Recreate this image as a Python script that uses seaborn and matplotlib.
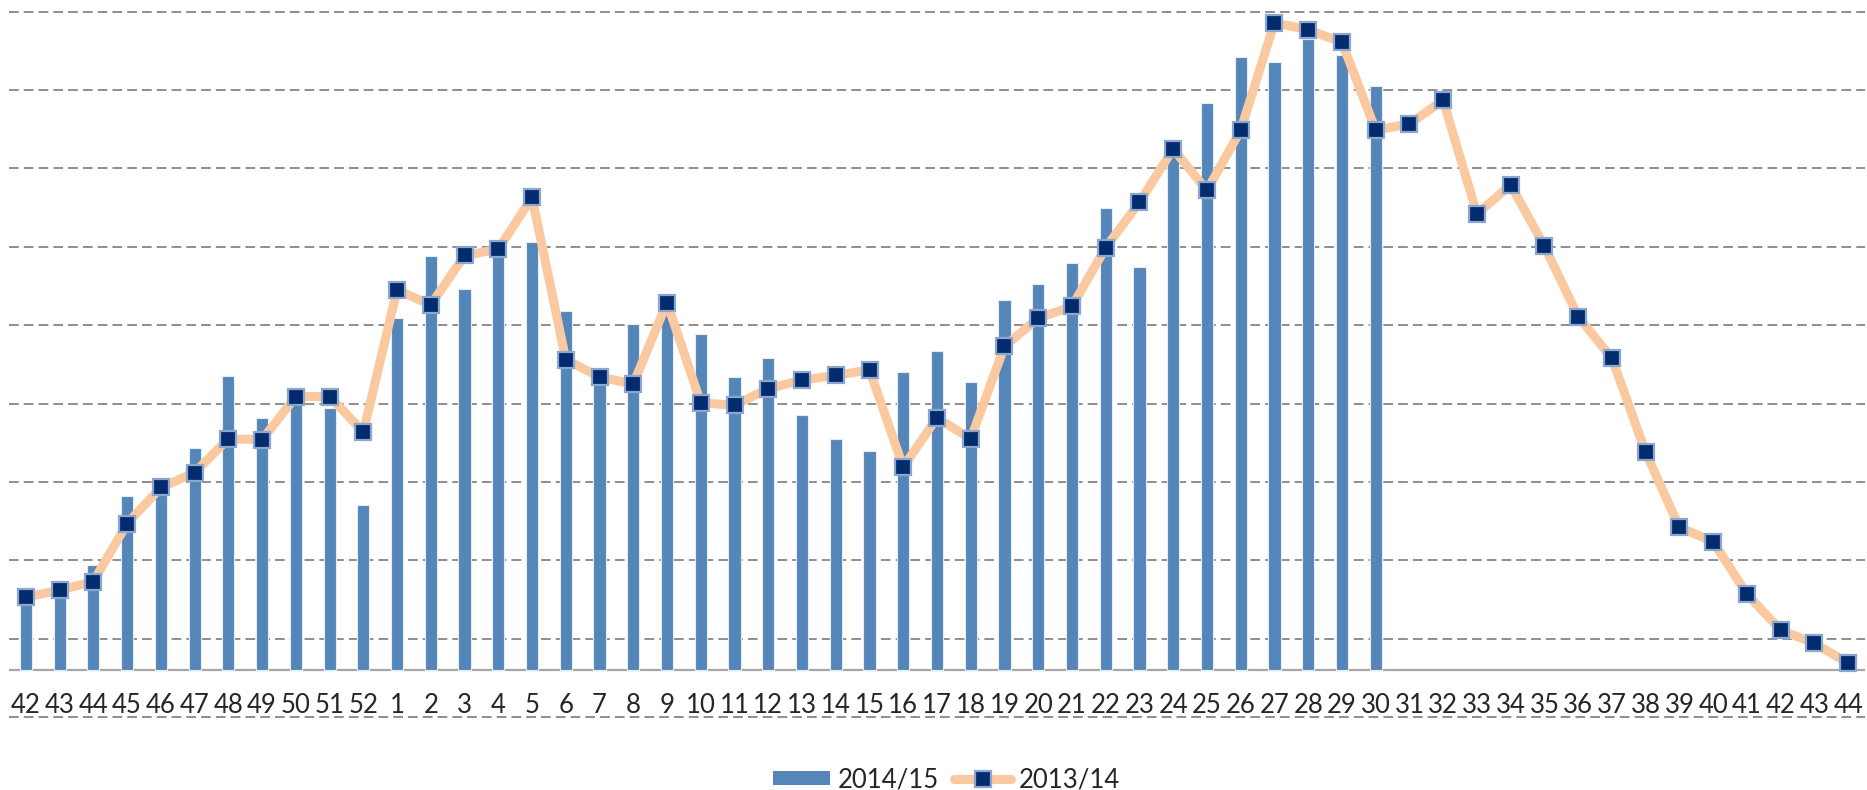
import numpy as np
import pandas as pd
import matplotlib
matplotlib.use("Agg")
import matplotlib.pyplot as plt
import seaborn as sns
from matplotlib.lines import Line2D
from matplotlib.patches import Patch

# week labels (season runs week 42 -> week 44 of next year)
weeks = [str(w) for w in list(range(42, 53)) + list(range(1, 45))]

# 2014/15 season (bars, up to week 30)
season_1415 = [10.0, 10.5, 13.4, 22.2, 23.5, 28.3, 37.5, 32.2, 34.5, 33.5, 21.0,
               44.9, 52.8, 48.6, 53.5, 54.6, 45.8, 36.8, 44.2, 45.7, 42.9,
               37.4, 39.8, 32.5, 29.5, 27.9, 38.0, 40.7, 36.7, 47.2, 49.3,
               51.9, 59.0, 51.4, 65.5, 72.4, 78.2, 77.6, 80.5, 78.5, 74.5]

# 2013/14 season (line, full season)
season_1314 = [9.3, 10.2, 11.3, 18.7, 23.3, 25.2, 29.5, 29.4, 34.9, 34.9, 30.4,
               48.5, 46.6, 52.9, 53.7, 60.3, 39.6, 37.4, 36.5, 46.9, 34.1,
               33.8, 35.9, 37.0, 37.6, 38.3, 25.9, 32.2, 29.5, 41.3, 44.9,
               46.4, 53.9, 59.7, 66.5, 61.2, 68.9, 82.6, 81.7, 80.1, 68.9,
               69.7, 72.7, 58.2, 61.9, 54.1, 45.1, 39.8, 27.8, 18.2, 16.4,
               9.7, 5.1, 3.4, 0.9]

grid_levels = [-6, 4, 14, 24, 34, 44, 54, 64, 74, 84]

bar_color = "#5586B9"
line_color = "#FBC9A0"
marker_face = "#032C6E"
marker_edge = "#8DA6CD"

sns.set_style("white")
plt.rcParams["font.family"] = ["Lato", "DejaVu Sans"]

fig = plt.figure(figsize=(18.67, 7.9), dpi=100)
ax = fig.add_axes([9 / 1867, 69 / 790, 1856 / 1867, 721 / 790])

bars = pd.DataFrame({"pos": range(len(season_1415)), "value": season_1415})
line = pd.DataFrame({"pos": range(len(season_1314)), "value": season_1314})

for g in grid_levels:
    ax.axhline(g, color="#8E8E8E", lw=1.4, linestyle=(0, (5, 2.6)), zorder=0)
ax.axhline(0, color="#A6A6A6", lw=1.6, zorder=1)

sns.barplot(data=bars, x="pos", y="value", color=bar_color, width=0.36,
            saturation=1, edgecolor="#E6ECF4", linewidth=0.8, ax=ax, zorder=2)

sns.lineplot(data=line, x="pos", y="value", color=line_color, lw=6.5,
             marker="s", markersize=11, markerfacecolor=marker_face,
             markeredgecolor=marker_edge, markeredgewidth=1.6,
             ax=ax, zorder=3, legend=False)

ax.set_xlim(-0.5, len(weeks) - 0.5)
ax.set_ylim(-6.5, 85.5)
ax.set_xticks(range(len(weeks)))
ax.set_xticklabels(weeks, fontsize=18.5)
ax.tick_params(axis="x", length=0, pad=-20.5)
ax.set_yticks([])
ax.set_xlabel("")
ax.set_ylabel("")
for s in ax.spines.values():
    s.set_visible(False)

handles = [
    Patch(facecolor=bar_color, edgecolor="none", label="2014/15"),
    Line2D([0], [0], color=line_color, lw=6.5, marker="s", markersize=11,
           markerfacecolor=marker_face, markeredgecolor=marker_edge,
           markeredgewidth=1.6, label="2013/14"),
]
fig.legend(handles=handles, loc="center", bbox_to_anchor=(0.507, 0.013),
           ncol=2, frameon=False, fontsize=18.5, handlelength=2.2,
           handleheight=0.5, columnspacing=0.6, handletextpad=0.3)

fig.savefig("out.png", dpi=100)
